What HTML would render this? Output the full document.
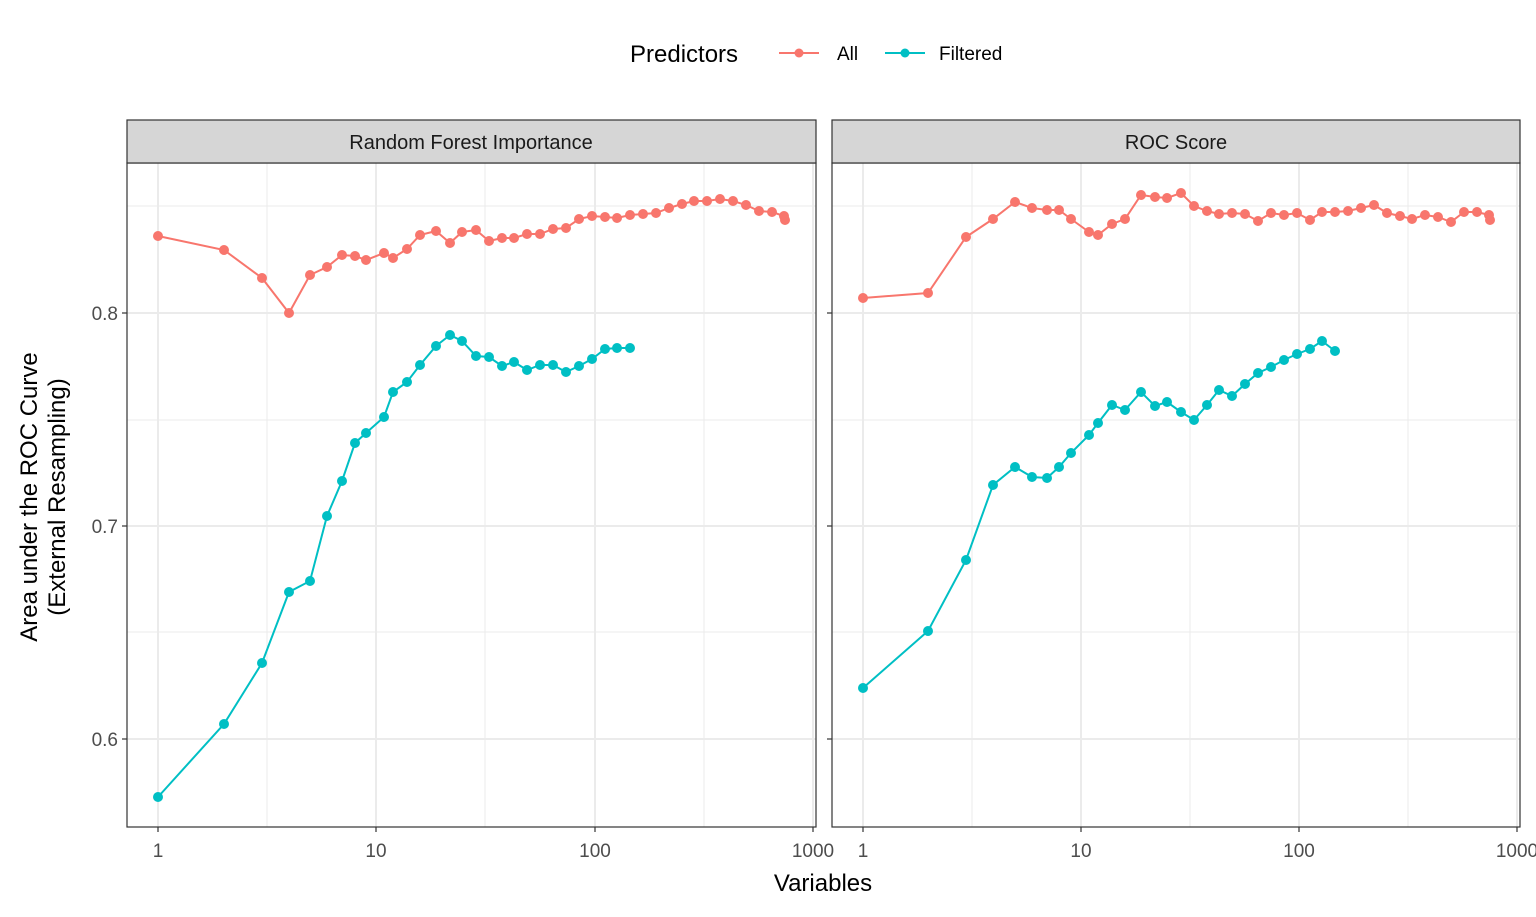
<!DOCTYPE html><html><head><style>body{margin:0;background:#fff}</style></head><body>
<svg width="1536" height="912" xmlns="http://www.w3.org/2000/svg" font-family="Liberation Sans, sans-serif">
<rect width="1536" height="912" fill="#fff"/>
<g id="p1">
<rect x="127" y="163" width="689" height="664" fill="#fff"/>
<g stroke="#ebebeb" stroke-width="1">
<line x1="267" x2="267" y1="163" y2="827"/><line x1="485" x2="485" y1="163" y2="827"/><line x1="704" x2="704" y1="163" y2="827"/>
<line x1="127" x2="816" y1="206" y2="206"/><line x1="127" x2="816" y1="420" y2="420"/><line x1="127" x2="816" y1="632" y2="632"/>
</g>
<g stroke="#ebebeb" stroke-width="2">
<line x1="158" x2="158" y1="163" y2="827"/><line x1="376" x2="376" y1="163" y2="827"/><line x1="595" x2="595" y1="163" y2="827"/><line x1="813" x2="813" y1="163" y2="827"/>
<line x1="127" x2="816" y1="313" y2="313"/><line x1="127" x2="816" y1="526" y2="526"/><line x1="127" x2="816" y1="739" y2="739"/>
</g>
<rect x="127" y="163" width="689" height="664" fill="none" stroke="#333" stroke-width="1.2"/>
<rect x="127" y="120" width="689" height="43" fill="#d6d6d6" stroke="#333" stroke-width="1.2"/>
<text x="471" y="149" font-size="20" text-anchor="middle" fill="#1a1a1a">Random Forest Importance</text>
</g>
<g id="p2">
<rect x="832" y="163" width="688" height="664" fill="#fff"/>
<g stroke="#ebebeb" stroke-width="1">
<line x1="972" x2="972" y1="163" y2="827"/><line x1="1190" x2="1190" y1="163" y2="827"/><line x1="1408" x2="1408" y1="163" y2="827"/>
<line x1="832" x2="1520" y1="206" y2="206"/><line x1="832" x2="1520" y1="420" y2="420"/><line x1="832" x2="1520" y1="632" y2="632"/>
</g>
<g stroke="#ebebeb" stroke-width="2">
<line x1="863" x2="863" y1="163" y2="827"/><line x1="1081" x2="1081" y1="163" y2="827"/><line x1="1299" x2="1299" y1="163" y2="827"/><line x1="1517" x2="1517" y1="163" y2="827"/>
<line x1="832" x2="1520" y1="313" y2="313"/><line x1="832" x2="1520" y1="526" y2="526"/><line x1="832" x2="1520" y1="739" y2="739"/>
</g>
<rect x="832" y="163" width="688" height="664" fill="none" stroke="#333" stroke-width="1.2"/>
<rect x="832" y="120" width="688" height="43" fill="#d6d6d6" stroke="#333" stroke-width="1.2"/>
<text x="1176" y="149" font-size="20" text-anchor="middle" fill="#1a1a1a">ROC Score</text>
</g>
<g stroke="#333" stroke-width="1.2">
<line x1="122" x2="127" y1="313" y2="313"/><line x1="122" x2="127" y1="526" y2="526"/><line x1="122" x2="127" y1="739" y2="739"/>
<line x1="827" x2="832" y1="313" y2="313"/><line x1="827" x2="832" y1="526" y2="526"/><line x1="827" x2="832" y1="739" y2="739"/>
<line x1="158" x2="158" y1="827" y2="832"/><line x1="376" x2="376" y1="827" y2="832"/><line x1="595" x2="595" y1="827" y2="832"/><line x1="813" x2="813" y1="827" y2="832"/>
<line x1="863" x2="863" y1="827" y2="832"/><line x1="1081" x2="1081" y1="827" y2="832"/><line x1="1299" x2="1299" y1="827" y2="832"/><line x1="1517" x2="1517" y1="827" y2="832"/>
</g>
<g font-size="19" fill="#4d4d4d" text-anchor="end">
<text x="118" y="320">0.8</text><text x="118" y="533">0.7</text><text x="118" y="746">0.6</text>
</g>
<g font-size="19" fill="#4d4d4d" text-anchor="middle">
<text x="158" y="857">1</text><text x="376" y="857">10</text><text x="595" y="857">100</text><text x="813" y="857">1000</text>
<text x="863" y="857">1</text><text x="1081" y="857">10</text><text x="1299" y="857">100</text><text x="1517" y="857">1000</text>
</g>
<text x="823" y="891" font-size="24" text-anchor="middle" fill="#000">Variables</text>
<text transform="translate(37,497) rotate(-90)" font-size="24" text-anchor="middle" fill="#000">Area under the ROC Curve</text>
<text transform="translate(65,497) rotate(-90)" font-size="24" text-anchor="middle" fill="#000">(External Resampling)</text>
<g id="legend">
<text x="630" y="62" font-size="24" fill="#000">Predictors</text>
<line x1="779" x2="819" y1="53" y2="53" stroke="#F8766D" stroke-width="2"/><circle cx="799" cy="53" r="4.5" fill="#F8766D"/>
<text x="837" y="60" font-size="19">All</text>
<line x1="885" x2="925" y1="53" y2="53" stroke="#00BFC4" stroke-width="2"/><circle cx="905" cy="53" r="4.5" fill="#00BFC4"/>
<text x="939" y="60" font-size="19">Filtered</text>
</g>
<g id="series"></g>
</svg>
<script>
const S=[
["#F8766D","158,236 224,250 262,278 289,313 310,275 327,267 342,255 355,256 366,260 384,253 393,258 407,249 420,235 436,231 450,243 462,232 476,230 489,241 502,238 514,238 527,234 540,234 553,229 566,228 579,219 592,216 605,217 617,218 630,215 643,214 656,213 669,208 682,204 694,201 707,201 720,199 733,201 746,205 759,211 772,212 784,216 785,220"],
["#00BFC4","158,797 224,724 262,663 289,592 310,581 327,516 342,481 355,443 366,433 384,417 393,392 407,382 420,365 436,346 450,335 462,341 476,356 489,357 502,366 514,362 527,370 540,365 553,365 566,372 579,366 592,359 605,349 617,348 630,348"],
["#F8766D","863,298 928,293 966,237 993,219 1015,202 1032,208 1047,210 1059,210 1071,219 1089,232 1098,235 1112,224 1125,219 1141,195 1155,197 1167,198 1181,193 1194,206 1207,211 1219,214 1232,213 1245,214 1258,221 1271,213 1284,215 1297,213 1310,220 1322,212 1335,212 1348,211 1361,208 1374,205 1387,213 1400,216 1412,219 1425,215 1438,217 1451,222 1464,212 1477,212 1489,215 1490,220"],
["#00BFC4","863,688 928,631 966,560 993,485 1015,467 1032,477 1047,478 1059,467 1071,453 1089,435 1098,423 1112,405 1125,410 1141,392 1155,406 1167,402 1181,412 1194,420 1207,405 1219,390 1232,396 1245,384 1258,373 1271,367 1284,360 1297,354 1310,349 1322,341 1335,351"]];
let h="";
for(const [c,p] of S){h+=`<polyline points="${p}" fill="none" stroke="${c}" stroke-width="2"/>`;
for(const q of p.split(" ")){const [x,y]=q.split(",");h+=`<circle cx="${x}" cy="${y}" r="5" fill="${c}"/>`;}}
document.getElementById("series").innerHTML=h;
</script>
</body></html>
